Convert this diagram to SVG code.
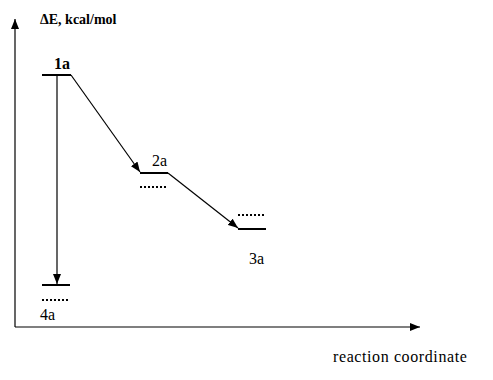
<svg xmlns="http://www.w3.org/2000/svg" width="493" height="380" viewBox="0 0 493 380">
<defs>
<marker id="ah" markerWidth="10" markerHeight="8" refX="10" refY="4" orient="auto" markerUnits="userSpaceOnUse">
<path d="M0,0 L10,4 L0,8 Z" fill="#000"/>
</marker>
</defs>
<style>
.lv{stroke:#000;stroke-width:2;fill:none}
.dt{stroke:#000;stroke-width:2;stroke-dasharray:2 2;fill:none}
.ln{stroke:#000;stroke-width:1.2;fill:none}
</style>
<rect width="493" height="380" fill="#fff"/>
<g id="axes">
<line class="ln" x1="15" y1="327" x2="15" y2="19" marker-end="url(#ah)"/>
<line class="ln" x1="15" y1="327" x2="420" y2="327" marker-end="url(#ah)"/>
<text x="40" y="24" font-family="Liberation Serif" font-size="14" font-weight="bold">&#916;E, kcal/mol</text>
<text x="333" y="362" font-family="Liberation Serif" font-size="16" letter-spacing="0.6">reaction coordinate</text>
</g>
<g id="n1a">
<line class="lv" x1="42" y1="75" x2="71" y2="75"/>
<text x="54" y="69" font-family="Liberation Serif" font-size="16" font-weight="bold">1a</text>
</g>
<g id="n2a">
<line class="lv" x1="140" y1="173" x2="168" y2="173"/>
<line class="dt" x1="140" y1="187" x2="166" y2="187"/>
<text x="152" y="166" font-family="Liberation Serif" font-size="16">2a</text>
</g>
<g id="n3a">
<line class="lv" x1="238" y1="229" x2="266" y2="229"/>
<line class="dt" x1="238" y1="215" x2="264" y2="215"/>
<text x="249" y="264" font-family="Liberation Serif" font-size="16">3a</text>
</g>
<g id="n4a">
<line class="lv" x1="42" y1="285" x2="70" y2="285"/>
<line class="dt" x1="42" y1="300" x2="68" y2="300"/>
<text x="40" y="320" font-family="Liberation Serif" font-size="16">4a</text>
</g>
<g id="connectors">
<line class="ln" x1="71" y1="75" x2="140" y2="172" marker-end="url(#ah)"/>
<line class="ln" x1="168" y1="173" x2="238" y2="228" marker-end="url(#ah)"/>
<line class="ln" x1="57" y1="75" x2="57" y2="284" marker-end="url(#ah)"/>
</g>
</svg>
